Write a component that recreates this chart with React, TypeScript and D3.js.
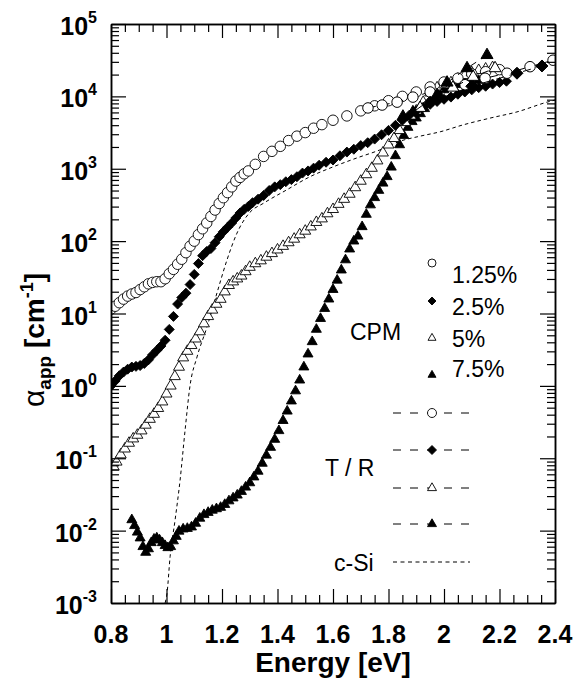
import React, { useEffect, useRef } from "react";
import * as d3 from "d3";

// [photon energy (eV), apparent absorption coefficient (cm^-1)]
type Pt = [number, number];

// CPM measurements, one array per concentration
const cpm125: Pt[] = [
  [0.8, 11.5], [0.815, 12.6], [0.83, 14.1], [0.845, 15.8], [0.86, 17.4], [0.875, 18.6],
  [0.89, 19.5], [0.905, 21.4], [0.92, 23.4], [0.935, 25.7], [0.95, 26.9], [0.965, 27.5],
  [0.98, 27.5], [0.995, 30.2], [1.01, 35.5], [1.025, 40.7], [1.04, 47.9], [1.055, 56.2],
  [1.07, 69.2], [1.085, 85.1], [1.1, 100], [1.115, 123], [1.13, 148], [1.145, 178],
  [1.16, 219], [1.175, 269], [1.19, 331], [1.205, 398], [1.22, 468], [1.235, 562],
  [1.25, 676], [1.265, 759], [1.28, 851], [1.295, 933], [1.32, 1150], [1.35, 1480],
  [1.38, 1740], [1.41, 2040], [1.44, 2450], [1.47, 2820], [1.5, 3160], [1.53, 3630],
  [1.56, 4070], [1.6, 4680], [1.65, 5370], [1.7, 6310], [1.75, 7410], [1.8, 8710],
  [1.85, 10000], [1.9, 11500], [1.95, 13500], [2.0, 15800], [2.05, 17800], [2.1, 20400],
  [2.15, 21900], [2.2, 23400],
];

const cpm25: Pt[] = [
  [0.8, 1.0], [0.815, 1.17], [0.83, 1.38], [0.845, 1.55], [0.86, 1.7], [0.875, 1.82],
  [0.89, 1.86], [0.905, 1.91], [0.92, 2.04], [0.935, 2.29], [0.95, 2.69], [0.965, 3.09],
  [0.98, 3.55], [0.995, 4.27], [1.01, 6.03], [1.025, 9.12], [1.04, 13.5], [1.055, 16.6],
  [1.07, 19.1], [1.085, 25.1], [1.1, 34.7], [1.115, 49], [1.13, 63], [1.145, 72],
  [1.16, 79], [1.175, 95], [1.19, 115], [1.205, 135], [1.22, 155], [1.235, 178],
  [1.25, 209], [1.265, 245], [1.28, 275], [1.295, 302], [1.31, 339], [1.33, 380],
  [1.35, 427], [1.37, 501], [1.39, 562], [1.41, 603], [1.43, 661], [1.45, 708],
  [1.47, 776], [1.49, 871], [1.51, 933], [1.53, 1020], [1.55, 1120], [1.575, 1230],
  [1.6, 1320], [1.625, 1510], [1.65, 1700], [1.675, 1860], [1.7, 2090], [1.725, 2290],
  [1.75, 2570], [1.775, 2950], [1.8, 3390], [1.825, 3980], [1.85, 4680], [1.875, 5500],
  [1.9, 6310], [1.925, 7080], [1.95, 7760], [1.975, 8510], [2.0, 9120], [2.025, 9770],
  [2.05, 10700], [2.075, 11500], [2.1, 12300], [2.125, 13200], [2.15, 13800],
  [2.175, 14800], [2.2, 15500], [2.225, 16200],
];

const cpm5: Pt[] = [
  [0.8, 0.083], [0.81, 0.076], [0.82, 0.089], [0.835, 0.112], [0.85, 0.135], [0.865, 0.162],
  [0.88, 0.186], [0.895, 0.209], [0.91, 0.24], [0.925, 0.288], [0.94, 0.347], [0.955, 0.407],
  [0.97, 0.49], [0.985, 0.603], [1.0, 0.776], [1.015, 1.0], [1.03, 1.35], [1.045, 1.82],
  [1.06, 2.45], [1.075, 3.02], [1.09, 3.63], [1.105, 4.47], [1.12, 5.62], [1.135, 7.24],
  [1.15, 9.12], [1.165, 11.2], [1.18, 13.5], [1.195, 15.8], [1.21, 20.0], [1.225, 24.5],
  [1.24, 27.5], [1.255, 30.2], [1.27, 33.1], [1.285, 38.0], [1.3, 43.7], [1.32, 49.0],
  [1.34, 53.7], [1.36, 60.3], [1.38, 67.6], [1.4, 75.9], [1.42, 85.1], [1.44, 95.5],
  [1.46, 107], [1.48, 123], [1.5, 138], [1.52, 158], [1.54, 182], [1.56, 204],
  [1.58, 240], [1.6, 275], [1.62, 324], [1.64, 380], [1.66, 447], [1.68, 550],
  [1.7, 676], [1.72, 832], [1.74, 1020], [1.76, 1290], [1.78, 1660], [1.8, 2140],
  [1.82, 2630], [1.84, 3390], [1.86, 4370], [1.88, 5370], [1.9, 6310], [1.925, 8320],
  [1.95, 11200], [1.975, 13200], [2.0, 14500], [2.025, 15500], [2.05, 17400],
  [2.075, 19500], [2.1, 21400], [2.125, 22900], [2.15, 24000], [2.175, 25100],
];

const cpm75: Pt[] = [
  [0.875, 0.0141], [0.885, 0.0117], [0.895, 0.0095], [0.905, 0.0079], [0.915, 0.006],
  [0.925, 0.005], [0.935, 0.0056], [0.945, 0.0068], [0.955, 0.0076], [0.965, 0.0079],
  [0.975, 0.0074], [0.985, 0.0068], [0.995, 0.0062], [1.005, 0.0058], [1.015, 0.006],
  [1.025, 0.0072], [1.035, 0.0083], [1.045, 0.0098], [1.06, 0.0105], [1.075, 0.0107],
  [1.09, 0.0112], [1.105, 0.0126], [1.12, 0.0148], [1.135, 0.0166], [1.15, 0.0178],
  [1.165, 0.0191], [1.18, 0.02], [1.195, 0.0209], [1.21, 0.0229], [1.225, 0.0257],
  [1.24, 0.0282], [1.255, 0.0309], [1.27, 0.0347], [1.285, 0.0398], [1.3, 0.0457],
  [1.315, 0.055], [1.33, 0.066], [1.345, 0.085], [1.36, 0.11], [1.375, 0.141],
  [1.39, 0.182], [1.405, 0.24], [1.42, 0.331], [1.435, 0.447], [1.45, 0.617],
  [1.465, 0.851], [1.48, 1.2], [1.495, 1.82], [1.51, 2.75], [1.525, 4.07], [1.54, 6.03],
  [1.555, 8.51], [1.57, 11.7], [1.585, 15.8], [1.6, 21.4], [1.615, 28.8], [1.63, 39.8],
  [1.645, 55.0], [1.66, 77.6], [1.675, 100], [1.69, 117], [1.705, 158], [1.72, 234],
  [1.735, 316], [1.75, 398], [1.765, 501], [1.78, 631], [1.795, 776], [1.81, 1050],
  [1.825, 1510], [1.84, 2140], [1.855, 2880], [1.87, 3720], [1.885, 4470], [1.9, 5010],
  [1.915, 5750], [1.93, 6760], [1.945, 8130], [1.96, 9550], [1.98, 11200], [2.0, 12300],
  [2.025, 13500], [2.05, 14500], [2.075, 15100], [2.1, 15800], [2.125, 16600], [2.15, 17000],
];

// transmission / reflection measurements
const tr125: Pt[] = [
  [1.726, 6920], [1.777, 7590], [1.831, 8320], [1.888, 9770], [1.95, 11500], [2.076, 14500],
  [2.148, 17800], [2.227, 20900], [2.31, 25700], [2.393, 31600],
];
const tr25: Pt[] = [[1.95, 8300], [2.1, 13800], [2.263, 20900], [2.353, 26300]];
const tr5: Pt[] = [[1.914, 6920], [2.032, 13200], [2.105, 18600], [2.184, 24500]];
const tr75: Pt[] = [
  [1.852, 5250], [1.888, 6030], [1.975, 10500], [2.011, 15500], [2.083, 24500], [2.155, 37200],
];

// crystalline silicon reference
const cSi: Pt[] = [
  [0.995, 0.001], [1.002, 0.00138], [1.013, 0.00437], [1.031, 0.0141], [1.049, 0.05],
  [1.067, 0.245], [1.085, 1.02], [1.11, 2.51], [1.146, 6.53], [1.182, 19.3], [1.218, 55],
  [1.254, 129], [1.301, 251], [1.348, 331], [1.434, 513], [1.517, 776], [1.6, 1060],
  [1.686, 1410], [1.769, 1820], [1.841, 2400], [1.914, 2820], [1.986, 3240], [2.068, 4030],
  [2.166, 5010], [2.263, 6100], [2.371, 8320], [2.4, 8910],
];

const xTicks = [0.8, 1, 1.2, 1.4, 1.6, 1.8, 2, 2.2, 2.4];
const yExponents = [-3, -2, -1, 0, 1, 2, 3, 4, 5];
const cpmLabels = ["1.25%", "2.5%", "5%", "7.5%"];
const markerKinds = ["circle", "diamond", "triOpen", "triFilled"];

const FONT = "'Liberation Sans', Arial, sans-serif";

function markerPath(kind: string, size: number): string {
  if (kind === "circle") {
    const r = size / 2;
    return `M${r},0A${r},${r} 0 1,1 ${-r},0A${r},${r} 0 1,1 ${r},0Z`;
  }
  if (kind === "diamond") {
    const h = size / 2;
    return `M0,${-h}L${h},0L0,${h}L${-h},0Z`;
  }
  const h = (size * Math.sqrt(3)) / 2;
  return `M0,${(-2 * h) / 3}L${size / 2},${h / 3}L${-size / 2},${h / 3}Z`;
}
const markerFill = (kind: string) => (kind === "circle" || kind === "triOpen" ? "#fff" : "#000");

const App = () => {
  const svgRef = useRef<SVGSVGElement | null>(null);

  useEffect(() => {
    const width = 579;
    const height = 684;
    const svg = d3.select(svgRef.current);
    svg.selectAll("*").remove();
    svg.attr("width", width).attr("height", height);

    const x = d3.scaleLinear().domain([0.8, 2.4]).range([111, 555]);
    const y = d3.scaleLog().domain([1e-3, 1e5]).range([603, 24]);
    const [px0, px1] = x.range();
    const [py1, py0] = y.range();

    svg.append("defs").append("clipPath").attr("id", "plotClip")
      .append("rect").attr("x", px0).attr("y", py0).attr("width", px1 - px0).attr("height", py1 - py0);

    const plot = svg.append("g").attr("clip-path", "url(#plotClip)");

    // c-Si dotted line
    const line = d3.line<Pt>().x(d => x(d[0])).y(d => y(d[1])).curve(d3.curveMonotoneX);
    plot.append("path").datum(cSi).attr("d", line).attr("fill", "none")
      .attr("stroke", "#000").attr("stroke-width", 1).attr("stroke-dasharray", "3.5,3");

    // CPM series
    const cpmSeries = [cpm75, cpm5, cpm25, cpm125];
    const cpmKinds = ["triFilled", "triOpen", "diamond", "circle"];
    const cpmSizes = [10, 11, 10, 10.5];
    cpmSeries.forEach((data, i) => {
      const kind = cpmKinds[i];
      plot.append("g").selectAll("path").data(data).enter().append("path")
        .attr("d", markerPath(kind, cpmSizes[i]))
        .attr("transform", d => `translate(${x(d[0])},${y(d[1])})`)
        .attr("fill", markerFill(kind)).attr("stroke", "#000").attr("stroke-width", 0.9);
    });

    // T/R series: dashed lines with markers
    const trSeries = [tr125, tr25, tr5, tr75];
    const trLine = d3.line<Pt>().x(d => x(d[0])).y(d => y(d[1]));
    trSeries.forEach((data, i) => {
      const kind = markerKinds[i];
      plot.append("path").datum(data).attr("d", trLine).attr("fill", "none")
        .attr("stroke", "#000").attr("stroke-width", 1).attr("stroke-dasharray", "8,6");
      plot.append("g").selectAll("path").data(data).enter().append("path")
        .attr("d", markerPath(kind, kind === "circle" ? 10.5 : 12))
        .attr("transform", d => `translate(${x(d[0])},${y(d[1])})`)
        .attr("fill", markerFill(kind)).attr("stroke", "#000").attr("stroke-width", 1);
    });

    // axes (ticks point inward)
    const xMinor = d3.range(0.85, 2.4, 0.05).filter(v => Math.abs(Math.round(v * 5) - v * 5) > 0.01);
    const yMinor: number[] = [];
    yExponents.slice(0, -1).forEach(e => {
      for (let m = 2; m <= 9; m++) yMinor.push(m * Math.pow(10, e));
    });
    const yMajor = yExponents.map(e => Math.pow(10, e));

    const axisStyle = (g: d3.Selection<SVGGElement, unknown, null, undefined>) => {
      g.selectAll("path").attr("stroke", "#000").attr("stroke-width", 1.5);
      g.selectAll("line").attr("stroke", "#000").attr("stroke-width", 1.2);
      g.selectAll("text").remove();
    };

    const addAxis = (axis: d3.Axis<any>, transform: string) => {
      svg.append("g").attr("transform", transform).call(axis).call(axisStyle);
    };

    addAxis(d3.axisBottom(x).tickValues(xTicks).tickSizeInner(-14).tickSizeOuter(0), `translate(0,${py1})`);
    addAxis(d3.axisBottom(x).tickValues(xMinor).tickSizeInner(-8).tickSizeOuter(0), `translate(0,${py1})`);
    addAxis(d3.axisTop(x).tickValues(xTicks).tickSizeInner(-14).tickSizeOuter(0), `translate(0,${py0})`);
    addAxis(d3.axisTop(x).tickValues(xMinor).tickSizeInner(-8).tickSizeOuter(0), `translate(0,${py0})`);
    addAxis(d3.axisLeft(y).tickValues(yMajor).tickSizeInner(-15).tickSizeOuter(0), `translate(${px0},0)`);
    addAxis(d3.axisLeft(y).tickValues(yMinor).tickSizeInner(-8).tickSizeOuter(0), `translate(${px0},0)`);
    addAxis(d3.axisRight(y).tickValues(yMajor).tickSizeInner(-15).tickSizeOuter(0), `translate(${px1},0)`);
    addAxis(d3.axisRight(y).tickValues(yMinor).tickSizeInner(-8).tickSizeOuter(0), `translate(${px1},0)`);

    // x tick labels
    svg.append("g").selectAll("text").data(xTicks).enter().append("text")
      .attr("x", d => x(d)).attr("y", 643).attr("text-anchor", "middle")
      .style("font-family", FONT).style("font-size", "25px").style("font-weight", "bold")
      .text(d => String(d));

    // y tick labels 10^n
    yExponents.forEach(e => {
      const t = svg.append("text").attr("x", 97).attr("y", y(Math.pow(10, e)) + 11)
        .attr("text-anchor", "end")
        .style("font-family", FONT).style("font-size", "25px").style("font-weight", "bold");
      t.append("tspan").text("10");
      t.append("tspan").attr("dy", -12).style("font-size", "16px").text(String(e));
    });

    // axis titles
    svg.append("text").attr("x", (px0 + px1) / 2).attr("y", 672).attr("text-anchor", "middle")
      .style("font-family", FONT).style("font-size", "28px").style("font-weight", "bold")
      .text("Energy [eV]");

    const yt = svg.append("text").attr("transform", "translate(44,340) rotate(-90)")
      .attr("text-anchor", "middle")
      .style("font-family", FONT).style("font-size", "28px").style("font-weight", "bold");
    yt.append("tspan").style("font-weight", "normal").style("font-size", "30px").text("α");
    yt.append("tspan").attr("dy", 7).style("font-size", "19px").text("app");
    yt.append("tspan").attr("dy", -7).text(" [cm");
    yt.append("tspan").attr("dy", -11).style("font-size", "18px").text("-1");
    yt.append("tspan").attr("dy", 11).text("]");

    // legend
    const legend = svg.append("g");
    const legendText = (tx: number, ty: number, s: string) =>
      legend.append("text").attr("x", tx).attr("y", ty)
        .style("font-family", FONT).style("font-size", "23px").text(s);

    const cpmMarkY = [263, 301, 338, 375];
    const cpmTextY = [283, 315, 347, 377];
    markerKinds.forEach((kind, i) => {
      legend.append("path").attr("d", markerPath(kind, 8))
        .attr("transform", `translate(432,${cpmMarkY[i]})`)
        .attr("fill", markerFill(kind)).attr("stroke", "#000").attr("stroke-width", 0.9);
      legendText(452, cpmTextY[i], cpmLabels[i]);
    });
    legendText(350, 340, "CPM");

    const trRowY = [413, 450, 488, 524];
    markerKinds.forEach((kind, i) => {
      legend.append("line").attr("x1", 393).attr("x2", 470).attr("y1", trRowY[i]).attr("y2", trRowY[i])
        .attr("stroke", "#000").attr("stroke-width", 1).attr("stroke-dasharray", "8,9");
      legend.append("path").attr("d", markerPath(kind, 9))
        .attr("transform", `translate(432,${trRowY[i]})`)
        .attr("fill", markerFill(kind)).attr("stroke", "#000").attr("stroke-width", 0.9);
    });
    legendText(325, 476, "T / R");

    legend.append("line").attr("x1", 393).attr("x2", 470).attr("y1", 562).attr("y2", 562)
      .attr("stroke", "#000").attr("stroke-width", 1).attr("stroke-dasharray", "4,3.5");
    legendText(334, 571, "c-Si");
  }, []);

  return (
    <div style={{ position: "absolute", left: 0, top: 0, background: "#fff" }}>
      <svg ref={svgRef} />
    </div>
  );
};

export default App;
